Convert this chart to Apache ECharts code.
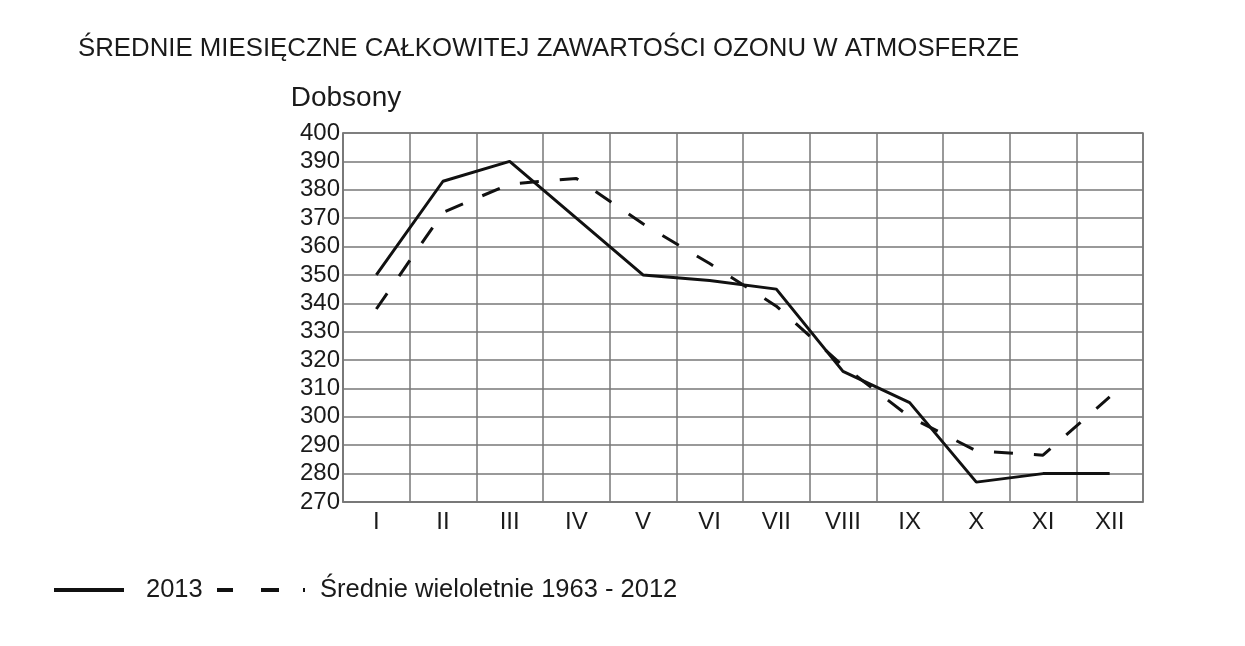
<!DOCTYPE html>
<html>
<head>
<meta charset="utf-8">
<script src="https://cdn.jsdelivr.net/npm/echarts@6/dist/echarts.min.js"></script>
<style>
  html, body { margin: 0; padding: 0; background: #fff; }
  #chart { width: 1245px; height: 646px; }
</style>
</head>
<body>
<div id="chart"></div>
<script>
// miesiace
var months = ['I', 'II', 'III', 'IV', 'V', 'VI', 'VII', 'VIII', 'IX', 'X', 'XI', 'XII'];
// srednie miesieczne 2013 (Dobsony)
var values2013 = [350, 383, 390, 370, 350, 348, 345, 316, 305, 277, 280, 280];
// srednie wieloletnie 1963 - 2012
var valuesLongTerm = [338, 372, 382, 384, 368, 354, 339, 318, 300, 288, 286.5, 307];
var seriesNames = ['2013', 'Średnie wieloletnie 1963 - 2012'];

var font = 'Liberation Sans, Arial, sans-serif';
var gridColor = '#777';

var chartDom = echarts.init(document.getElementById('chart'));
chartDom.setOption({
    animation: false,
    backgroundColor: '#fff',
    title: {
        text: 'ŚREDNIE MIESIĘCZNE CAŁKOWITEJ ZAWARTOŚCI OZONU W ATMOSFERZE',
        left: 73,
        top: 31,
        textStyle: {
            fontFamily: font,
            fontSize: 25.8,
            fontWeight: 'normal',
            color: '#1a1a1a'
        }
    },
    legend: [{
        data: [seriesNames[0]],
        left: 52,
        top: 577,
        padding: 0,
        itemWidth: 70,
        itemHeight: 14,
        itemStyle: { opacity: 0 },
        textStyle: { fontFamily: font, fontSize: 25.5, color: '#1a1a1a', padding: [0, 0, 0, 17] },
        lineStyle: { width: 4 }
    }, {
        data: [seriesNames[1]],
        left: 215,
        top: 577,
        padding: 0,
        itemWidth: 88,
        itemHeight: 14,
        itemStyle: { opacity: 0 },
        textStyle: { fontFamily: font, fontSize: 25.5, color: '#1a1a1a', padding: [0, 0, 0, 10] },
        lineStyle: { width: 4, type: [16, 28, 18, 24, 2, 20] }
    }],
    grid: {
        left: 343,
        right: 102,
        top: 133,
        bottom: 144,
        show: true,
        borderColor: gridColor,
        borderWidth: 1.5
    },
    xAxis: {
        type: 'category',
        boundaryGap: true,
        data: months,
        axisLine: { lineStyle: { color: gridColor, width: 1.5 } },
        axisTick: { show: false },
        axisLabel: { fontFamily: font, fontSize: 24, color: '#1a1a1a', margin: 8 },
        splitLine: { show: true, lineStyle: { color: gridColor, width: 1.5 } }
    },
    yAxis: {
        type: 'value',
        min: 270,
        max: 400,
        interval: 10,
        name: 'Dobsony',
        nameLocation: 'end',
        nameGap: 21,
        nameTextStyle: { fontFamily: font, fontSize: 28, color: '#1a1a1a', padding: [0, 0, 0, 6] },
        axisLine: { show: true, lineStyle: { color: gridColor, width: 1.5 } },
        axisTick: { show: false },
        axisLabel: { fontFamily: font, fontSize: 24, color: '#1a1a1a', margin: 3 },
        splitLine: { show: true, lineStyle: { color: gridColor, width: 1.5 } }
    },
    series: [{
        name: seriesNames[0],
        type: 'line',
        data: values2013,
        symbol: 'none',
        lineStyle: { color: '#111', width: 3 },
        itemStyle: { color: '#111' }
    }, {
        name: seriesNames[1],
        type: 'line',
        data: valuesLongTerm,
        symbol: 'none',
        lineStyle: { color: '#111', width: 3, type: [19, 21] },
        itemStyle: { color: '#111' }
    }]
});
</script>
</body>
</html>
